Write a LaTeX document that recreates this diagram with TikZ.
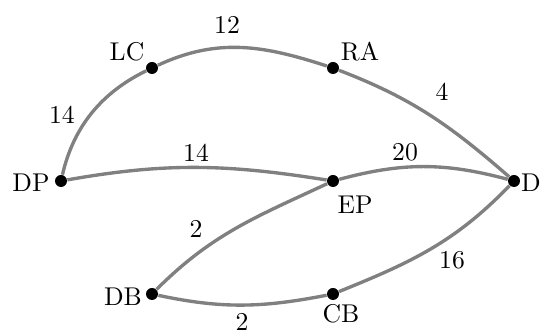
\documentclass[tikz,border=0pt]{standalone}
\begin{document}
\begin{tikzpicture}[x=0.4167pt, y=-0.4167pt,
  font=\fontsize{10.7}{13}\selectfont,
  vertex/.style={circle, fill=black, inner sep=0pt, minimum size=5pt},
  link/.style={draw=gray, line width=1.4pt},
  tag/.style={inner sep=0pt},
  weight/.style={inner sep=0pt}]
\useasboundingbox (0,0) rectangle (542,333);

% vertices
\node[vertex] (LC) at (152,68) {};
\node[vertex] (RA) at (333,68) {};
\node[vertex] (DP) at (61,181) {};
\node[vertex] (EP) at (333,181) {};
\node[vertex] (D)  at (514,181) {};
\node[vertex] (DB) at (152,294) {};
\node[vertex] (CB) at (333,294) {};

% vertex names
\node[tag] (tLC) at (127,52) {LC};
\node[tag] (tRA) at (360,52) {RA};
\node[tag] (tDP) at (31,183) {DP};
\node[tag] (tEP) at (355,205) {EP};
\node[tag] (tD)  at (531,183) {D};
\node[tag] (tDB) at (123,297) {DB};
\node[tag] (tCB) at (341,314) {CB};

% connections
\draw[link] (DP) to[out=77, in=206, looseness=0.95] (LC);
\draw[link] (LC) to[out=25, in=162] (RA);
\draw[link] (RA) to[out=-21, in=139] (D);
\draw[link] (DP) to[out=10, in=171] (EP);
\draw[link] (EP) to[out=15, in=165] (D);
\draw[link] (DB) to[out=45, in=205] (EP);
\draw[link] (DB) to[out=-12, in=191] (CB);
\draw[link] (CB) to[out=22, in=226] (D);

% weights
\node[weight] (w1) at (62,115) {14};
\node[weight] (w2) at (227,25) {12};
\node[weight] (w3) at (442,92) {4};
\node[weight] (w4) at (196,153) {14};
\node[weight] (w5) at (405,152) {20};
\node[weight] (w6) at (196,229) {2};
\node[weight] (w7) at (242,322) {2};
\node[weight] (w8) at (452,260) {16};
\end{tikzpicture}
\end{document}
